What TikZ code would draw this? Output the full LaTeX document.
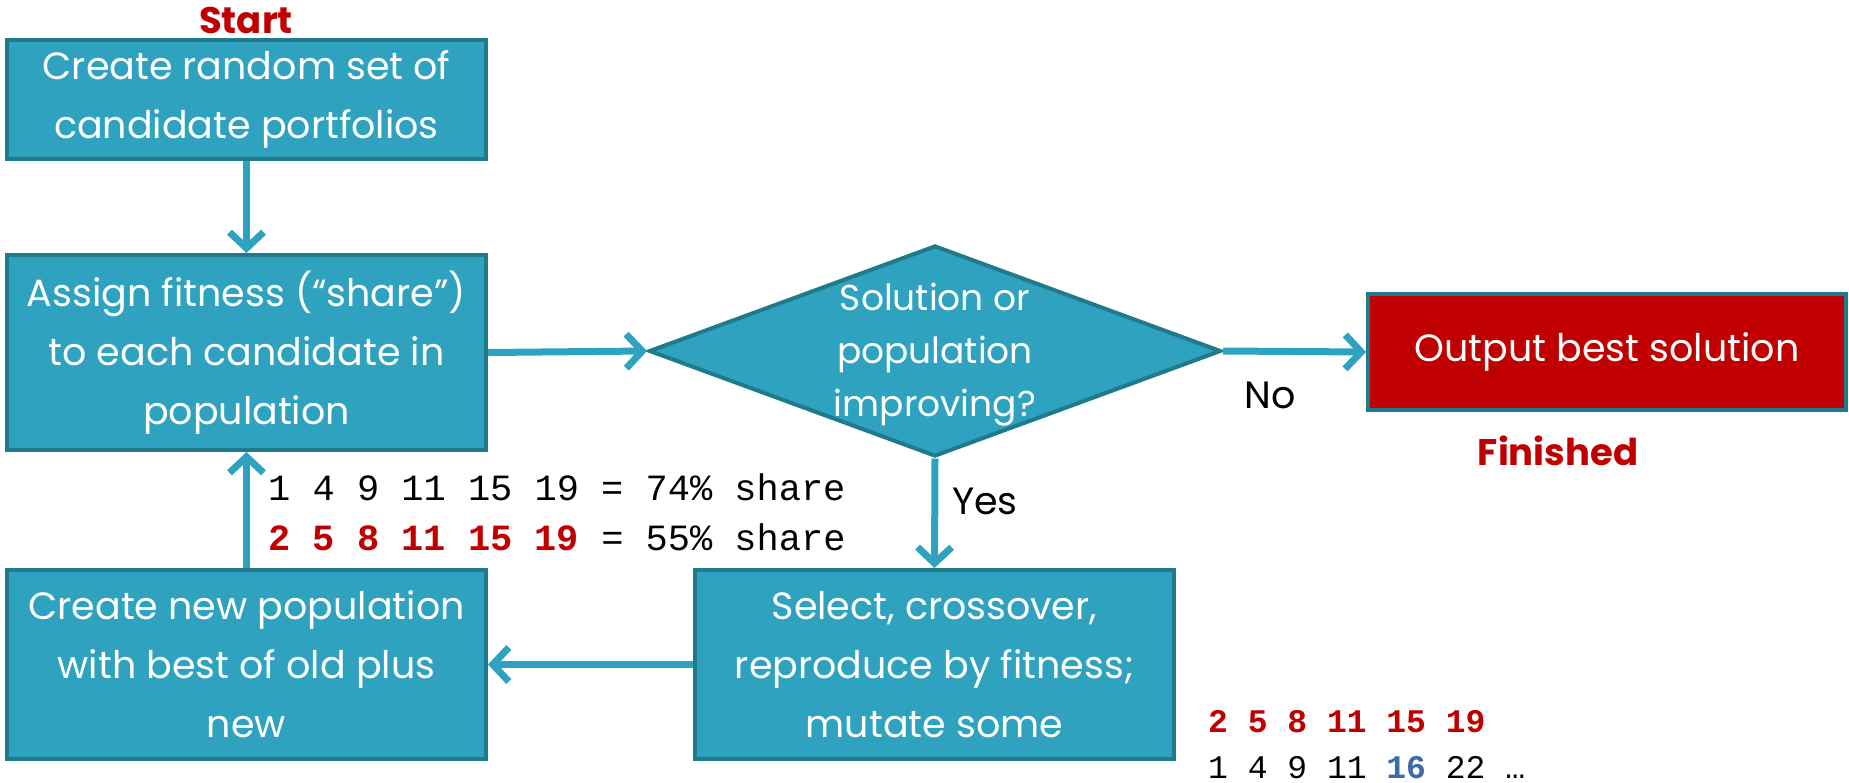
\documentclass[tikz,border=0pt]{standalone}
\usepackage{fontspec}
\setmainfont{Poppins}
\setmonofont{Liberation Mono}
\usetikzlibrary{shapes.geometric,arrows.meta}
\definecolor{boxfill}{HTML}{2EA2BF}
\definecolor{boxline}{HTML}{1F7A8C}
\definecolor{redfill}{HTML}{C00000}
\definecolor{arrowc}{HTML}{2EA2BF}
\definecolor{bluenum}{HTML}{3D6BA8}
\tikzset{
  stepbox/.style={draw=boxline, line width=4pt, fill=boxfill, text=white,
    minimum width=479pt, align=center, inner sep=0pt, outer sep=2pt,
    font=\fontsize{38}{59}\selectfont},
  endbox/.style={stepbox, fill=redfill},
  decision/.style={diamond, draw=boxline, line width=4pt, fill=boxfill,
    minimum width=572pt, minimum height=211pt, inner sep=0pt, outer sep=2pt, aspect=2.68},
  flow/.style={draw=arrowc, line width=7pt, -{Straight Barb[length=16pt,width=34pt,line width=7pt]}},
  redlabel/.style={text=redfill, font=\fontsize{37}{40}\selectfont\bfseries},
  plainlabel/.style={text=black, font=\fontsize{38}{42}\selectfont},
  monotext/.style={font=\fontsize{37}{50}\ttfamily\selectfont, anchor=base west, inner sep=0pt}
}
\begin{document}
\begin{tikzpicture}[x=1pt,y=-1pt]
\useasboundingbox (0,0) rectangle (1849,782);
\node[stepbox, minimum height=119pt] (b1) at (246.5,99.5) {Create random set of\\candidate portfolios};
\node[stepbox, minimum height=195pt] (b2) at (246.5,352.5) {Assign fitness (“share”)\\to each candidate in\\population};
\node[stepbox, minimum height=189pt] (b3) at (246.5,664.5) {Create new population\\with best of old plus\\new};
\node[stepbox, minimum height=189pt] (b4) at (934.5,664.5) {Select, crossover,\\reproduce by fitness;\\mutate some};
\node[endbox, minimum width=478pt, minimum height=116pt] (out) at (1607,352) {Output best solution};
\node[decision] (dia) at (935,351) {};
\node[text=white, align=center, font=\fontsize{36}{53}\selectfont, inner sep=0pt] (diatext) at (935,355) {Solution or\\population\\improving?};

\node[redlabel] (start) at (246,20) {Start};
\node[redlabel] (fin) at (1558,451) {Finished};
\node[plainlabel] (no) at (1270,395) {No};
\node[plainlabel] (yes) at (985,501) {Yes};

\node[monotext] (m1) at (268,500) {1 4 9 11 15 19 = 74\% share};
\node[monotext] (m2) at (268,550) {\textcolor{redfill}{\bfseries 2 5 8 11 15 19} = 55\% share};
\node[monotext, font=\fontsize{33}{46}\ttfamily\selectfont] (m3) at (1208,732) {\textcolor{redfill}{\bfseries 2 5 8 11 15 19}};
\node[monotext, font=\fontsize{33}{46}\ttfamily\selectfont] (m4) at (1208,778) {1 4 9 11 \textcolor{bluenum}{\bfseries 16} 22 …};

\draw[flow] (b1) -- (b2);
\draw[flow] (b2.east) -- (dia.west);
\draw[flow] (dia.east) -- (out.west);
\draw[flow] (dia.south) -- (b4.north);
\draw[flow] (b4.west) -- (b3.east);
\draw[flow] (b3.north) -- (b2.south);
\end{tikzpicture}
\end{document}
